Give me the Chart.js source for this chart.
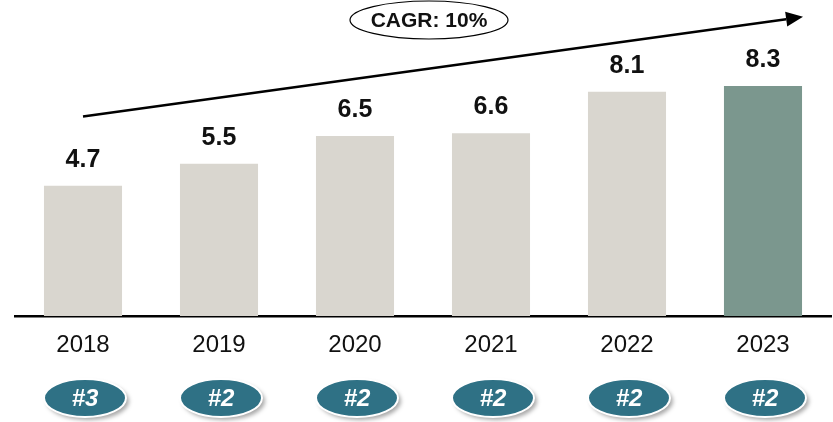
<!DOCTYPE html>
<html>
<head>
<meta charset="utf-8">
<script src="https://cdn.jsdelivr.net/npm/chart.js@4/dist/chart.umd.min.js"></script>
<style>
  html, body { margin: 0; padding: 0; background: #fff; }
  #wrap { width: 833px; height: 422px; }
</style>
</head>
<body>
<div id="wrap"><canvas id="c" width="833" height="422"></canvas></div>
<script>
// Yearly values and market rank per year
const years = ['2018', '2019', '2020', '2021', '2022', '2023'];
const values = [4.7, 5.5, 6.5, 6.6, 8.1, 8.3];
const ranks = ['#3', '#2', '#2', '#2', '#2', '#2'];
const cagrLabel = 'CAGR: 10%';

const barColors = years.map((y, i) => i === years.length - 1 ? '#7B978E' : '#D9D6CF');

// Value labels, growth arrow, CAGR bubble and rank badges
const overlay = {
  id: 'overlay',
  afterDatasetsDraw(chart) {
    const ctx = chart.ctx;
    const xs = chart.scales.x, ys = chart.scales.y;
    const meta = chart.getDatasetMeta(0);

    // value labels above each bar
    ctx.save();
    ctx.fillStyle = '#111';
    ctx.font = 'bold 25px "Liberation Sans", Arial, sans-serif';
    ctx.textAlign = 'center';
    ctx.textBaseline = 'middle';
    meta.data.forEach((bar, i) => {
      ctx.fillText(values[i].toFixed(1), bar.x, bar.y - 26);
    });
    ctx.restore();

    // growth arrow
    const first = meta.data[0], last = meta.data[meta.data.length - 1];
    const x0 = first.x, y0 = ys.getPixelForValue(7.2);
    const x1 = last.x + last.width / 2 + 1, y1 = ys.getPixelForValue(10.8);
    const ang = Math.atan2(y1 - y0, x1 - x0);
    const headLen = 17, headHalf = 7.5;
    ctx.save();
    ctx.strokeStyle = '#000';
    ctx.fillStyle = '#000';
    ctx.lineWidth = 2.5;
    ctx.beginPath();
    ctx.moveTo(x0, y0);
    ctx.lineTo(x1 - headLen * Math.cos(ang), y1 - headLen * Math.sin(ang));
    ctx.stroke();
    ctx.beginPath();
    ctx.moveTo(x1, y1);
    ctx.lineTo(x1 - headLen * Math.cos(ang) + headHalf * Math.sin(ang),
               y1 - headLen * Math.sin(ang) - headHalf * Math.cos(ang));
    ctx.lineTo(x1 - headLen * Math.cos(ang) - headHalf * Math.sin(ang),
               y1 - headLen * Math.sin(ang) + headHalf * Math.cos(ang));
    ctx.closePath();
    ctx.fill();
    ctx.restore();

    // CAGR bubble
    const cx = 429, cy = 20;
    ctx.save();
    ctx.beginPath();
    ctx.ellipse(cx, cy, 79, 19, 0, 0, Math.PI * 2);
    ctx.fillStyle = '#fff';
    ctx.fill();
    ctx.lineWidth = 1.2;
    ctx.strokeStyle = '#000';
    ctx.stroke();
    ctx.fillStyle = '#111';
    ctx.font = 'bold 21px "Liberation Sans", Arial, sans-serif';
    ctx.textAlign = 'center';
    ctx.textBaseline = 'middle';
    ctx.fillText(cagrLabel, cx, cy + 1);
    ctx.restore();

    // rank badges under the year labels
    ranks.forEach((r, i) => {
      const bx = xs.getPixelForValue(i) + 2, by = 398;
      ctx.save();
      ctx.shadowColor = 'rgba(0,0,0,0.35)';
      ctx.shadowBlur = 4;
      ctx.shadowOffsetX = 3;
      ctx.shadowOffsetY = 3;
      ctx.beginPath();
      ctx.ellipse(bx, by, 41, 19, 0, 0, Math.PI * 2);
      ctx.fillStyle = '#2F7185';
      ctx.fill();
      ctx.shadowColor = 'transparent';
      ctx.lineWidth = 2;
      ctx.strokeStyle = '#fff';
      ctx.stroke();
      ctx.fillStyle = '#fff';
      ctx.font = 'italic bold 24px "Liberation Sans", Arial, sans-serif';
      ctx.textAlign = 'center';
      ctx.textBaseline = 'middle';
      ctx.fillText(r, bx, by + 1);
      ctx.restore();
    });
  }
};

new Chart(document.getElementById('c'), {
  type: 'bar',
  data: {
    labels: years,
    datasets: [{
      data: values,
      backgroundColor: barColors,
      borderWidth: 0,
      categoryPercentage: 1,
      barPercentage: 0.574
    }]
  },
  options: {
    responsive: false,
    animation: false,
    layout: { padding: { left: 15, right: 2, top: 39, bottom: 0 } },
    plugins: { legend: { display: false }, tooltip: { enabled: false } },
    scales: {
      x: {
        offset: true,
        grid: { display: false, drawTicks: false },
        border: { display: true, color: '#000', width: 2.5 },
        ticks: {
          color: '#111',
          font: { family: '"Liberation Sans", Arial, sans-serif', size: 24 },
          padding: 15
        },
        afterFit(scale) { scale.height = 106; }
      },
      y: {
        display: false,
        min: 0,
        max: 10
      }
    }
  },
  plugins: [overlay]
});
</script>
</body>
</html>
